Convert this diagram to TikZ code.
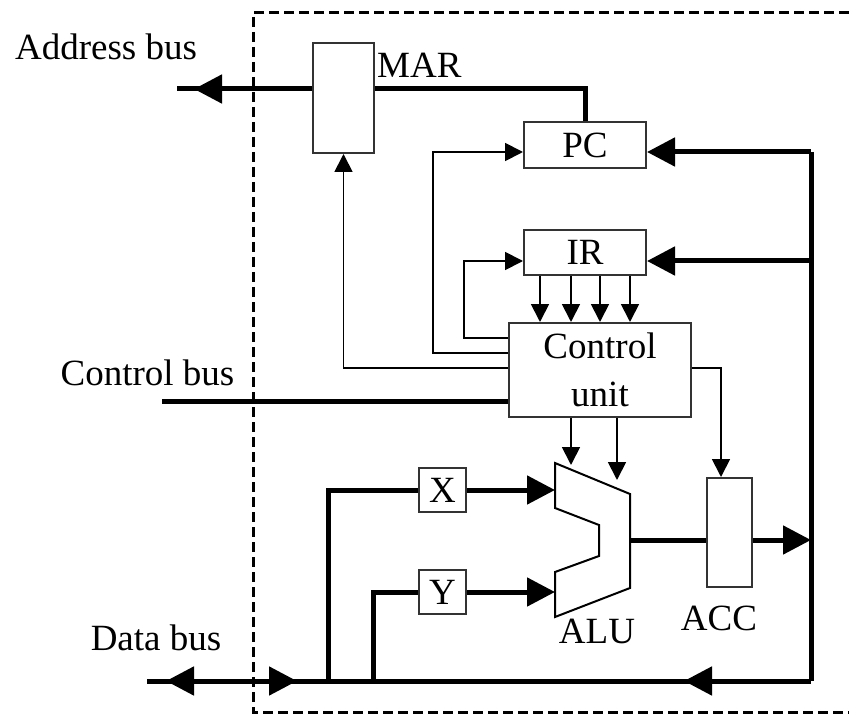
\documentclass[tikz,border=0pt]{standalone}
\usepackage{fontspec}
\setmainfont{Liberation Serif}
\usetikzlibrary{arrows.meta}
\begin{document}
\begin{tikzpicture}[x=1pt,y=-1pt,
  font=\fontsize{37}{48}\selectfont,
  btip/.tip={Triangle[length=28pt,width=28pt]},
  ctip/.tip={Triangle[length=18pt,width=18pt]},
  reg/.style={draw=black!80, line width=2pt, inner sep=0pt},
  lbl/.style={inner sep=0pt},
  bus/.style={line width=5pt},
  ctl/.style={line width=1.8pt},
  frame/.style={line width=3pt, dash pattern=on 10pt off 5pt}]
\useasboundingbox (0,0) rectangle (849,714);

% dashed CPU boundary
\draw[frame] (849,13) -- (253,13) -- (253,712) -- (849,712);

% registers
\node[reg, minimum width=61pt, minimum height=110pt] (MAR) at (343.5,98) {};
\node[reg, minimum width=122pt, minimum height=46pt] (PC) at (585,145) {PC};
\node[reg, minimum width=122pt, minimum height=45pt] (IR) at (585,252.5) {IR};
\node[reg, minimum width=182pt, minimum height=94pt, align=center] (CU) at (600,370) {Control\\unit};
\node[reg, minimum width=47pt, minimum height=44pt] (X) at (442.5,490) {X};
\node[reg, minimum width=47pt, minimum height=44pt] (Y) at (442.5,592) {Y};
\node[reg, minimum width=45pt, minimum height=109pt] (ACC) at (729.5,532.5) {};

% ALU shape
\coordinate (alu1) at (555,463);
\coordinate (alu2) at (630,494);
\coordinate (alu3) at (630,588);
\coordinate (alu4) at (555,617);
\coordinate (alu5) at (555,572);
\coordinate (alu6) at (599,556);
\coordinate (alu7) at (599,525);
\coordinate (alu8) at (555,508);
\coordinate (aluout) at (630,540);
\draw[line width=2pt] (alu1) -- (alu2) -- (alu3) -- (alu4) -- (alu5) -- (alu6) -- (alu7) -- (alu8) -- cycle;

% labels
\node[lbl, anchor=base] (laddr) at (106,60) {Address bus};
\node[lbl, anchor=base west] (lmar) at (377,78) {MAR};
\node[lbl, anchor=base] (lctl) at (147.5,385) {Control bus};
\node[lbl, anchor=base] (ldata) at (156,650) {Data bus};
\node[lbl, anchor=base] (lalu) at (597,643) {ALU};
\node[lbl, anchor=base] (lacc) at (719,630) {ACC};

% address bus
\coordinate (abL) at (177,89);
\coordinate (abA) at (222,89);
\coordinate (abT) at (194,89);
\draw[bus] (MAR.west |- abL) -- (abL);
\draw[bus,-{btip}] (abA) -- (abT);
\draw[bus] (MAR.east |- abL) -| (PC.north);

% right-hand bus
\coordinate (rtop) at (811,152);
\coordinate (rmid) at (811,261);
\coordinate (racc) at (811,540);
\coordinate (rbot) at (811,681);
\draw[bus] (rtop) -- (rbot);
\draw[bus,-{btip}] (rtop) -- (PC.east |- rtop);
\draw[bus,-{btip}] (rmid) -- (IR.east |- rmid);
\draw[bus] (aluout) -- (ACC.west |- aluout);
\draw[bus,-{btip}] (ACC.east |- aluout) -- (racc);

% data bus
\coordinate (dbL) at (147,681);
\coordinate (xj) at (328,681);
\coordinate (yj) at (373,681);
\draw[bus] (dbL) -- (rbot);
\draw[bus,-{btip}] (195,681) -- (166,681);
\draw[bus,-{btip}] (268,681) -- (297,681);
\draw[bus,-{btip}] (714,681) -- (684,681);
\draw[bus] (xj) |- (X.west);
\draw[bus] (yj) |- (Y.west);
\draw[bus,-{btip}] (X.east) -- (alu1 |- X.east);
\draw[bus,-{btip}] (Y.east) -- (alu1 |- Y.east);

% control bus
\coordinate (cbL) at (162,401);
\draw[bus] (cbL) -- (CU.west |- cbL);

% control signals
\draw[ctl,-{ctip}] (CU.west |- 0,338) -| (464,261) -- (IR.west |- 0,261);
\draw[ctl,-{ctip}] (CU.west |- 0,353) -| (433,152) -- (PC.west |- 0,152);
\draw[ctl,-{ctip}] (CU.west |- 0,368) -| (MAR.south);
\draw[ctl,-{ctip}] (CU.east |- 0,368) -| (ACC.north -| 721,0);
\foreach \xx in {540,571,600,630}
  \draw[ctl,-{ctip}] (IR.south -| \xx,0) -- (CU.north -| \xx,0);
\draw[ctl,-{ctip}] (CU.south -| 571,0) -- (571,465);
\draw[ctl,-{ctip}] (CU.south -| 617,0) -- (617,480);
\end{tikzpicture}
\end{document}
